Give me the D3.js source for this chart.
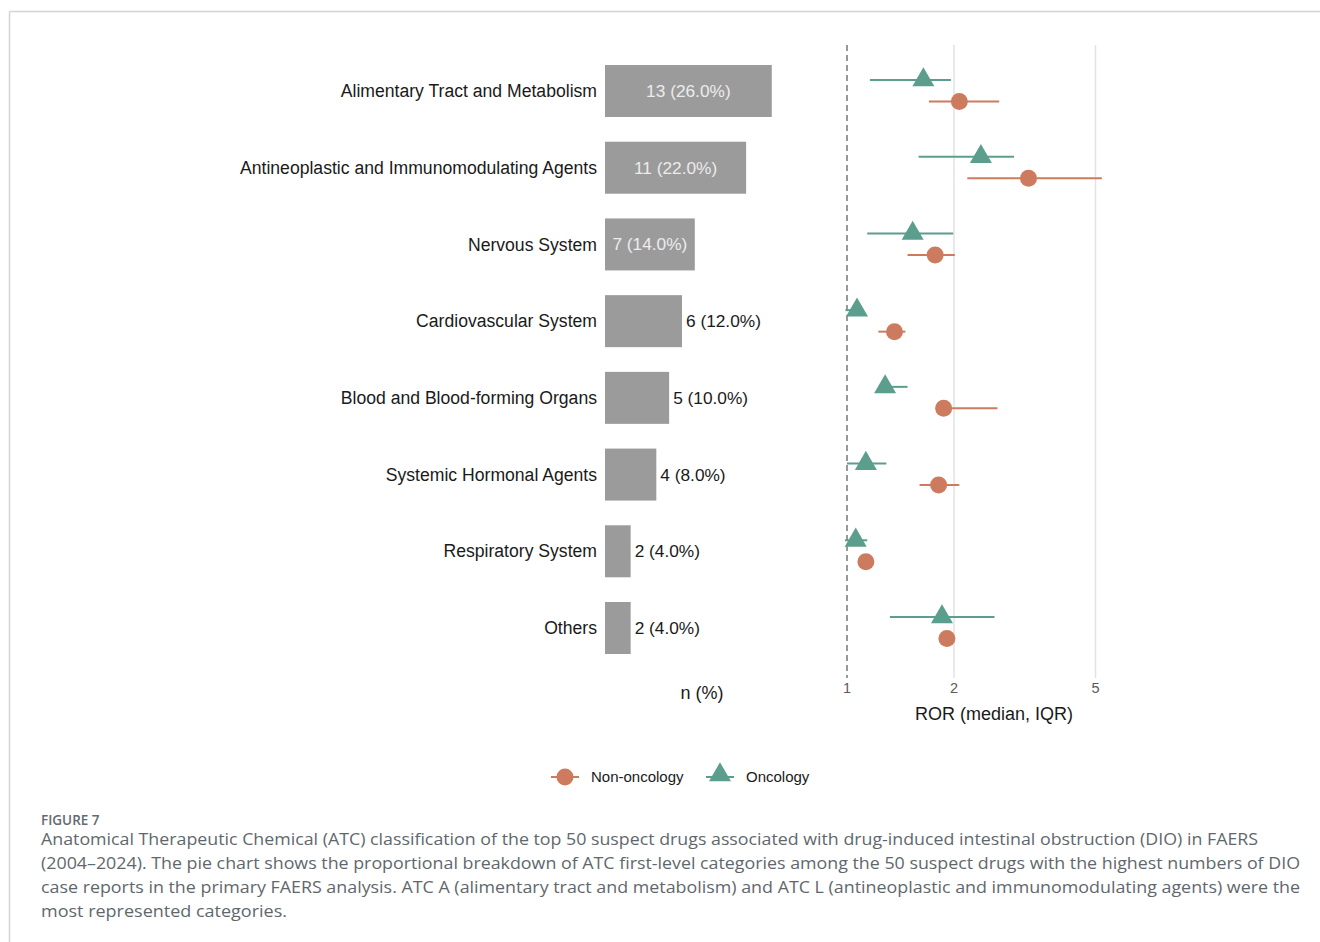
<!DOCTYPE html>
<html><head><meta charset="utf-8">
<script src="https://cdn.jsdelivr.net/npm/d3@7"></script>
<style>body{margin:0;background:#fff}svg{display:block}</style>
</head><body>
<svg id="c" width="1320" height="942"></svg>
<script>
const categories = ["Alimentary Tract and Metabolism","Antineoplastic and Immunomodulating Agents","Nervous System","Cardiovascular System","Blood and Blood-forming Organs","Systemic Hormonal Agents","Respiratory System","Others"];
const counts = [13, 11, 7, 6, 5, 4, 2, 2];
const total = 50;
// Oncology: median, q1, q3
const oncMedian = [1.64, 2.38, 1.53, 1.067, 1.28, 1.13, 1.058, 1.85];
const oncLow    = [1.16, 1.59, 1.14, 0.99, 1.24, 1.00, 0.987, 1.32];
const oncHigh   = [1.96, 2.95, 1.99, 1.10, 1.48, 1.29, 1.14, 2.60];
// Non-oncology
const nonMedian = [2.07, 3.24, 1.77, 1.36, 1.87, 1.81, 1.13, 1.91];
const nonLow    = [1.70, 2.18, 1.48, 1.225, 1.82, 1.60, 1.12, 1.89];
const nonHigh   = [2.68, 5.21, 2.01, 1.46, 2.65, 2.07, 1.14, 1.93];
const rorTicks = [1, 2, 5];
const legendLabels = ["Non-oncology", "Oncology"];
const captionTitle = "FIGURE 7";
const captionLines = [
 "Anatomical Therapeutic Chemical (ATC) classification of the top 50 suspect drugs associated with drug-induced intestinal obstruction (DIO) in FAERS",
 "(2004–2024). The pie chart shows the proportional breakdown of ATC first-level categories among the 50 suspect drugs with the highest numbers of DIO",
 "case reports in the primary FAERS analysis. ATC A (alimentary tract and metabolism) and ATC L (antineoplastic and immunomodulating agents) were the",
 "most represented categories."
];

const svg = d3.select("#c");
const FONT = "Liberation Sans, Arial, sans-serif";
const colNon = "#cd7b5e", colOnc = "#5b9e8e";

// frame
svg.append("line").attr("x1",9.5).attr("x2",1320).attr("y1",11.5).attr("y2",11.5).attr("stroke","#d4d4d4").attr("stroke-width",1.5);
svg.append("line").attr("x1",9.5).attr("x2",9.5).attr("y1",11.5).attr("y2",942).attr("stroke","#d4d4d4").attr("stroke-width",1.5);

const y = d3.scalePoint().domain(categories).range([91, 628]);
const xb = d3.scaleLinear().domain([0, 15.2]).range([605, 800]);
const xf = d3.scaleLog().domain([1, 5]).range([847, 1095.5]);
const barH = 52;

// category labels
svg.append("g").selectAll("text").data(categories).join("text")
  .attr("x", 597).attr("y", d => y(d)).attr("dy","0.35em")
  .attr("text-anchor","end").attr("font-family",FONT).attr("font-size",17.6).attr("fill","#1a1a1a")
  .text(d => d);

// bars
const bars = categories.map((c,i)=>({c, n:counts[i]}));
svg.append("g").selectAll("rect").data(bars).join("rect")
  .attr("x", xb(0)).attr("y", d => y(d.c) - barH/2)
  .attr("width", d => xb(d.n) - xb(0)).attr("height", barH)
  .attr("fill","#9b9b9b");
svg.append("g").selectAll("text").data(bars).join("text")
  .attr("x", d => d.n >= 7 ? (xb(0)+xb(d.n))/2 : xb(d.n) + 4)
  .attr("y", d => y(d.c)).attr("dy","0.35em")
  .attr("text-anchor", d => d.n >= 7 ? "middle" : "start")
  .attr("font-family",FONT).attr("font-size",17.3)
  .attr("fill", d => d.n >= 7 ? "#ececec" : "#1a1a1a")
  .text(d => `${d.n} (${(d.n/total*100).toFixed(1)}%)`);
svg.append("text").attr("x",702).attr("y",699).attr("text-anchor","middle")
  .attr("font-family",FONT).attr("font-size",18).attr("fill","#1a1a1a").text("n (%)");

// forest grid
const gTop = 45, gBot = 678;
svg.append("g").selectAll("line").data(rorTicks.filter(t=>t!==1)).join("line")
  .attr("x1", d=>xf(d)).attr("x2", d=>xf(d)).attr("y1", gTop).attr("y2", gBot)
  .attr("stroke","#e3e3e3").attr("stroke-width",1.5);
svg.append("line").attr("x1", xf(1)).attr("x2", xf(1)).attr("y1", gTop).attr("y2", gBot)
  .attr("stroke","#7f7f7f").attr("stroke-width",1.6).attr("stroke-dasharray","6,4");
svg.append("g").selectAll("text").data(rorTicks).join("text")
  .attr("x", d=>xf(d)).attr("y", 693).attr("text-anchor","middle")
  .attr("font-family",FONT).attr("font-size",14.5).attr("fill","#5a5a5a").text(d=>d);
svg.append("text").attr("x",994).attr("y",720).attr("text-anchor","middle")
  .attr("font-family",FONT).attr("font-size",18).attr("fill","#1a1a1a").text("ROR (median, IQR)");

const onc = categories.map((c,i)=>({c, m:oncMedian[i], lo:oncLow[i], hi:oncHigh[i]}));
const non = categories.map((c,i)=>({c, m:nonMedian[i], lo:nonLow[i], hi:nonHigh[i]}));
const dOnc = -11, dNon = 10.5;
const tri = d3.symbol().type(d3.symbolTriangle).size(210);

svg.append("g").selectAll("line").data(non).join("line")
  .attr("x1",d=>xf(d.lo)).attr("x2",d=>xf(d.hi)).attr("y1",d=>y(d.c)+dNon).attr("y2",d=>y(d.c)+dNon)
  .attr("stroke",colNon).attr("stroke-width",2);
svg.append("g").selectAll("circle").data(non).join("circle")
  .attr("cx",d=>xf(d.m)).attr("cy",d=>y(d.c)+dNon).attr("r",8.5).attr("fill",colNon);
svg.append("g").selectAll("line").data(onc).join("line")
  .attr("x1",d=>xf(d.lo)).attr("x2",d=>xf(d.hi)).attr("y1",d=>y(d.c)+dOnc).attr("y2",d=>y(d.c)+dOnc)
  .attr("stroke",colOnc).attr("stroke-width",2);
svg.append("g").selectAll("path").data(onc).join("path")
  .attr("d", tri).attr("transform",d=>`translate(${xf(d.m)},${y(d.c)+dOnc})`).attr("fill",colOnc);

// legend
const lg = svg.append("g");
lg.append("line").attr("x1",551).attr("x2",579).attr("y1",777).attr("y2",777).attr("stroke",colNon).attr("stroke-width",2);
lg.append("circle").attr("cx",565).attr("cy",777).attr("r",8.5).attr("fill",colNon);
lg.append("text").attr("x",591).attr("y",777).attr("dy","0.35em").attr("font-family",FONT).attr("font-size",15).attr("fill","#1a1a1a").text(legendLabels[0]);
lg.append("line").attr("x1",706).attr("x2",734).attr("y1",777).attr("y2",777).attr("stroke",colOnc).attr("stroke-width",2);
lg.append("path").attr("d",tri).attr("transform","translate(720,775)").attr("fill",colOnc);
lg.append("text").attr("x",746).attr("y",777).attr("dy","0.35em").attr("font-family",FONT).attr("font-size",15).attr("fill","#1a1a1a").text(legendLabels[1]);

// caption
const CF = "Open Sans, Lato, sans-serif";
svg.append("text").attr("x",41).attr("y",825).attr("font-family",CF).attr("font-size",13.5).attr("font-weight",600).attr("fill","#626a70").text(captionTitle);
const lens = [1217, 1259, 1259, 246];
svg.append("g").selectAll("text").data(captionLines).join("text")
  .attr("x",41).attr("y",(d,i)=>845+i*24).attr("font-family",CF).attr("font-size",16).attr("fill","#5f676d")
  .each(function(d,i){ if(lens[i]) d3.select(this).attr("textLength",lens[i]).attr("lengthAdjust","spacingAndGlyphs"); })
  .text(d=>d);
</script>
</body></html>
